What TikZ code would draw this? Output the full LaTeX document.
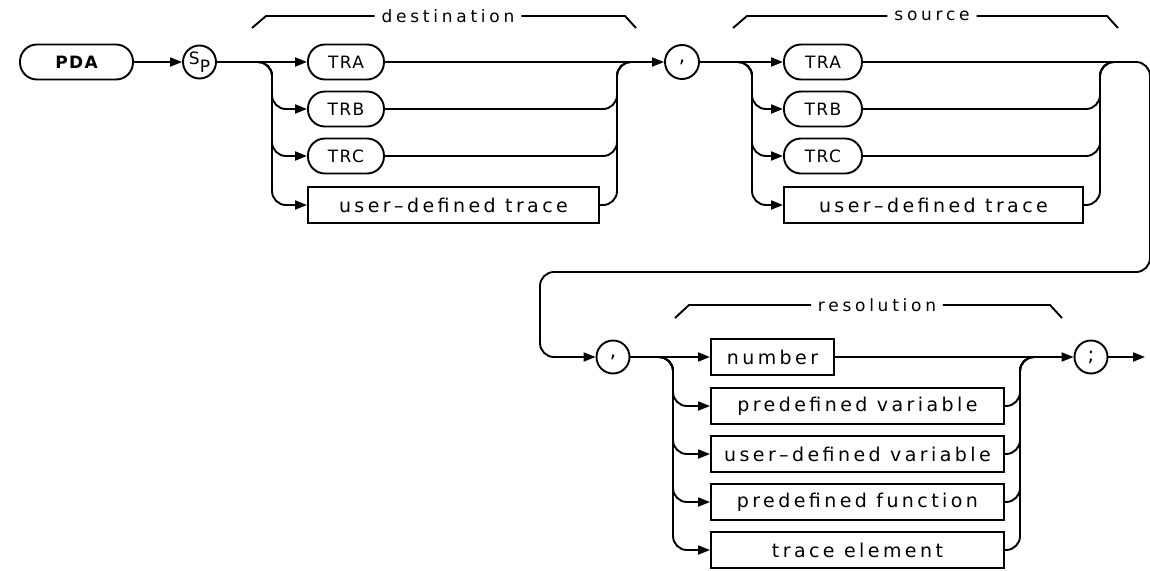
\documentclass[tikz,border=0pt]{standalone}
\usepackage{fontspec}
\setmainfont{DejaVu Sans}
\newfontfamily\hpfont[LetterSpace=18]{DejaVu Sans}
\newfontfamily\hpkey[LetterSpace=8]{DejaVu Sans}
\newfontfamily\hplabel[LetterSpace=22]{DejaVu Sans}
\usetikzlibrary{arrows.meta}

\begin{document}
\begin{tikzpicture}[
    x=1pt, y=-1pt, line width=1.9pt,
    kwd/.style={draw, rounded corners=17pt, minimum height=35pt,
        minimum width=#1, inner sep=0pt,
        font=\hpkey\fontsize{17}{20}\selectfont},
    kwd/.default=76pt,
    item/.style={draw, minimum height=36pt, minimum width=#1,
        inner sep=0pt, font=\hpfont\fontsize{19}{22}\selectfont},
    sym/.style={draw, circle, minimum size=33pt, inner sep=0pt,
        font=\hpfont\fontsize{20}{22}\selectfont},
    grplabel/.style={font=\hplabel\fontsize{17}{20}\selectfont,
        inner sep=6pt},
    rail/.style={rounded corners=14pt},
    feed/.style={-{Triangle[length=12pt,width=9pt]}},
]
\useasboundingbox (0,0) rectangle (1150,570);

% === Row and column positions ===
\def\rowA{62}     % TRA
\def\rowB{109}    % TRB
\def\rowC{156}    % TRC
\def\rowD{205}    % user-defined trace
\def\rowE{357}    % number
\def\rowF{406}
\def\rowG{454}
\def\rowH{502}
\def\rowI{550}
\def\colD{307}    % destination
\def\colS{783}    % source
\def\colR{710}    % resolution

% === Command ===
\node[kwd=113pt, font=\hpkey\bfseries\fontsize{17}{20}\selectfont]
    (pda) at (76.5, \rowA) {PDA};
\node[sym] (sp) at (199.5, \rowA)
    {\fontsize{17}{17}\selectfont\raisebox{3pt}{S}\raisebox{-5pt}{P}};

% === Destination ===
\node[kwd, anchor=west] (dtra) at (\colD, \rowA) {TRA};
\node[kwd, anchor=west] (dtrb) at (\colD, \rowB) {TRB};
\node[kwd, anchor=west] (dtrc) at (\colD, \rowC) {TRC};
\node[item=291pt, anchor=west] (duser) at (\colD, \rowD) {user–defined trace};
\node[sym, minimum size=34pt] (comma1) at (682, \rowA) {,};

\coordinate (dsplit) at (255, \rowA);
\coordinate (dvert) at (272, \rowA);
\coordinate (dmerge) at (617, \rowA);
\coordinate (djoin) at (640, \rowA);

% === Source ===
\node[kwd=78pt, anchor=west] (stra) at (\colS, \rowA) {TRA};
\node[kwd=78pt, anchor=west] (strb) at (\colS, \rowB) {TRB};
\node[kwd=78pt, anchor=west] (strc) at (\colS, \rowC) {TRC};
\node[item=299pt, anchor=west] (suser) at (\colS, \rowD) {user–defined trace};

\coordinate (ssplit) at (735, \rowA);
\coordinate (svert) at (752, \rowA);
\coordinate (smerge) at (1100, \rowA);
\coordinate (sjoin) at (1125, \rowA);
\coordinate (wrapR) at (1150, 272);
\coordinate (wrapL) at (540, 272);

% === Resolution ===
\node[sym] (comma2) at (613, \rowE) {,};
\node[item=123pt, anchor=west] (rnum) at (\colR, \rowE) {number};
\node[item=293pt, anchor=west] (rpvar) at (\colR, \rowF) {predefined variable};
\node[item=293pt, anchor=west] (ruvar) at (\colR, \rowG) {user–defined variable};
\node[item=293pt, anchor=west] (rpfun) at (\colR, \rowH) {predefined function};
\node[item=293pt, anchor=west] (rtel) at (\colR, \rowI) {trace element};
\node[sym] (semi) at (1091, \rowE) {;};

\coordinate (rsplit) at (655, \rowE);
\coordinate (rvert) at (673, \rowE);
\coordinate (rmerge) at (1020, \rowE);
\coordinate (rjoin) at (1045, \rowE);
\coordinate (rend) at (1145, \rowE);

% === Group brackets ===
\node[grplabel] (dlbl) at (448, 16) {destination};
\draw (252, 28) -- (266, 16) -- (dlbl.west);
\draw (dlbl.east) -- (625, 16) -- (636, 28);

\node[grplabel] (slbl) at (932, 16) {source};
\draw (733, 28) -- (747, 16) -- (slbl.west);
\draw (slbl.east) -- (1107, 16) -- (1118, 28);

\node[grplabel] (rlbl) at (877, 305) {resolution};
\draw (675, 318) -- (689, 305) -- (rlbl.west);
\draw (rlbl.east) -- (1050, 305) -- (1062, 318);

% === Connectors ===
\draw[feed] (pda) -- (sp);
\draw[feed] (sp) -- (dtra);
\foreach \n in {dtrb, dtrc, duser}
    \draw[feed, rail] (dsplit) -| (dvert |- \n.west) -- (\n.west);
\foreach \n in {dtrb, dtrc, duser}
    \draw[rail] (\n.east) -| (dmerge) -- (djoin);
\draw[feed] (dtra) -- (comma1);

\draw[feed] (comma1) -- (stra);
\foreach \n in {strb, strc, suser}
    \draw[feed, rail] (ssplit) -| (svert |- \n.west) -- (\n.west);
\foreach \n in {strb, strc, suser}
    \draw[rail] (\n.east) -| (smerge) -- (sjoin);
\draw[feed, rail] (stra.east) -| (wrapR) -- (wrapL) |- (comma2.west);

\draw[feed] (comma2) -- (rnum);
\foreach \n in {rpvar, ruvar, rpfun, rtel}
    \draw[feed, rail] (rsplit) -| (rvert |- \n.west) -- (\n.west);
\foreach \n in {rpvar, ruvar, rpfun, rtel}
    \draw[rail] (\n.east) -| (rmerge) -- (rjoin);
\draw[feed] (rnum) -- (semi);
\draw[feed] (semi) -- (rend);

\end{tikzpicture}
\end{document}
